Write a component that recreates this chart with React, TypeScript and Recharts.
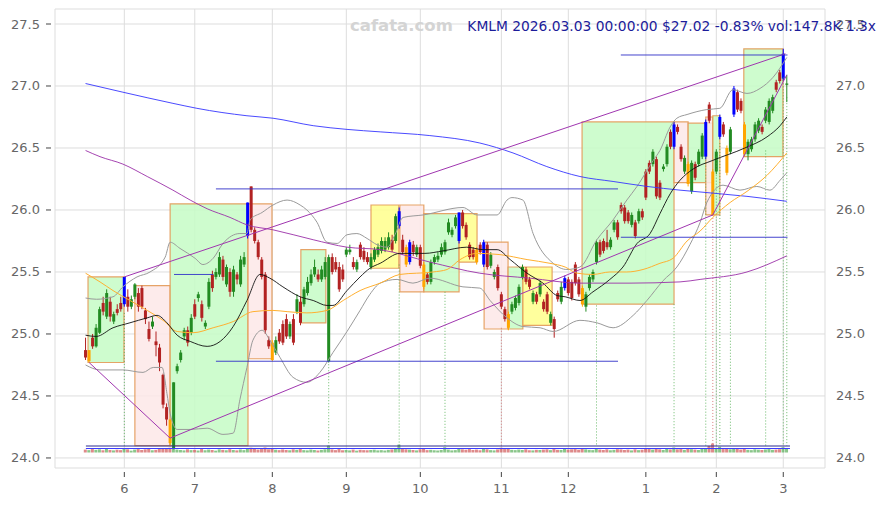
import React from 'react';
import {
  ComposedChart,
  Bar,
  Line,
  XAxis,
  YAxis,
  CartesianGrid,
  ReferenceArea,
  ReferenceLine,
} from 'recharts';

// ---------- candle data (trading-day index 0 = 2025-05-15 ... 199 = 2026-03-03) ----------
const openP = [
  24.87, 24.78, 24.97, 24.9, 25.01, 25.25, 25.14, 25.26, 25.1, 25.2,
  25.25, 25.24, 25.3, 25.22, 25.3, 25.33, 25.37, 25.19, 25.04, 25.06,
  24.94, 24.89, 24.67, 24.41, 24.31, 24.08, 24.7, 24.79, 24.98, 25.03,
  25.01, 25.24, 25.29, 25.24, 25.06, 25.22, 25.48, 25.46, 25.48, 25.6,
  25.4, 25.5, 25.34, 25.48, 25.4, 25.56, 25.79, 26.19, 25.84, 25.74,
  25.6, 25.48, 24.95, 24.93, 24.85, 25.01, 25.08, 25.12, 24.98, 25.12,
  25.18, 25.26, 25.24, 25.33, 25.41, 25.48, 25.48, 25.44, 25.46, 24.78,
  25.62, 25.58, 25.54, 25.52, 25.64, 25.66, 25.58, 25.52, 25.72, 25.67,
  25.62, 25.54, 25.6, 25.64, 25.67, 25.68, 25.7, 25.76, 25.75, 25.87,
  25.76, 25.7, 25.58, 25.72, 25.64, 25.7, 25.56, 25.48, 25.42, 25.58,
  25.6, 25.64, 25.66, 25.82, 25.8, 25.87, 25.75, 25.98, 25.88, 25.72,
  25.68, 25.68, 25.72, 25.56, 25.72, 25.55, 25.46, 25.54, 25.32, 25.2,
  25.16, 25.18, 25.21, 25.25, 25.46, 25.52, 25.44, 25.26, 25.32, 25.32,
  25.26, 25.32, 25.09, 25.12, 25.33, 25.26, 25.37, 25.44, 25.42, 25.56,
  25.44, 25.37, 25.22, 25.37, 25.44, 25.58, 25.74, 25.75, 25.74, 25.7,
  25.84, 25.9, 26.04, 26.02, 25.98, 25.88, 25.9, 25.91, 25.99, 26.31,
  26.38, 26.37, 26.41, 26.22, 26.33, 26.37, 26.63, 26.51, 26.67, 26.51,
  26.31, 26.37, 26.15, 26.37, 26.37, 26.43, 26.43, 26.85, 26.31, 26.31,
  26.59, 26.69, 26.5, 26.47, 26.77, 26.95, 26.88, 26.69, 26.45, 26.49,
  26.57, 26.64, 26.67, 26.72, 26.71, 26.8, 27.03, 27.11, 27.06, 27.01,
];
const highP = [
  24.97, 24.87, 25.0, 25.08, 25.22, 25.3, 25.36, 25.3, 25.18, 25.24,
  25.3, 25.46, 25.36, 25.31, 25.41, 25.37, 25.39, 25.21, 25.1, 25.14,
  25.02, 24.92, 24.68, 24.44, 24.31, 24.61, 24.76, 24.87, 25.05, 25.06,
  25.16, 25.28, 25.34, 25.27, 25.11, 25.45, 25.51, 25.53, 25.66, 25.63,
  25.56, 25.53, 25.55, 25.5, 25.63, 25.66, 26.06, 26.19, 25.86, 25.76,
  25.62, 25.5, 24.98, 24.95, 24.98, 25.04, 25.11, 25.16, 25.1, 25.16,
  25.32, 25.3, 25.38, 25.46, 25.52, 25.6, 25.52, 25.55, 25.62, 25.64,
  25.65, 25.62, 25.58, 25.56, 25.7, 25.72, 25.62, 25.6, 25.74, 25.7,
  25.66, 25.65, 25.7, 25.73, 25.78, 25.78, 25.82, 25.8, 25.97, 26.02,
  25.8, 25.72, 25.76, 25.75, 25.72, 25.72, 25.58, 25.5, 25.6, 25.64,
  25.66, 25.73, 25.76, 25.93, 25.86, 25.96, 25.98, 26.0, 25.9, 25.74,
  25.7, 25.7, 25.74, 25.76, 25.74, 25.66, 25.52, 25.56, 25.34, 25.22,
  25.18, 25.26, 25.31, 25.4, 25.56, 25.54, 25.46, 25.35, 25.34, 25.43,
  25.28, 25.34, 25.18, 25.14, 25.35, 25.42, 25.47, 25.46, 25.44, 25.58,
  25.46, 25.39, 25.34, 25.48, 25.52, 25.76, 25.76, 25.77, 25.84, 25.78,
  25.92, 25.92, 26.06, 26.04, 26.0, 25.98, 25.92, 26.01, 26.01, 26.33,
  26.4, 26.49, 26.43, 26.24, 26.37, 26.53, 26.65, 26.71, 26.69, 26.53,
  26.44, 26.39, 26.4, 26.39, 26.49, 26.62, 26.73, 26.87, 26.33, 26.49,
  26.77, 26.71, 26.52, 26.67, 27.0, 26.97, 26.9, 26.71, 26.57, 26.59,
  26.71, 26.74, 26.69, 26.83, 26.9, 26.93, 27.05, 27.13, 27.3, 27.09,
];
const lowP = [
  24.79, 24.77, 24.88, 24.89, 25.0, 25.15, 25.12, 25.1, 25.08, 25.15,
  25.18, 25.22, 25.18, 25.2, 25.28, 25.18, 25.2, 25.08, 24.94, 25.04,
  24.82, 24.7, 24.4, 24.26, 24.1, 24.07, 24.68, 24.77, 24.95, 24.9,
  24.99, 25.12, 25.26, 25.1, 25.04, 25.2, 25.34, 25.44, 25.46, 25.43,
  25.38, 25.3, 25.3, 25.4, 25.38, 25.54, 25.77, 25.82, 25.73, 25.6,
  25.44, 25.0, 24.88, 24.78, 24.83, 24.92, 24.91, 24.96, 24.96, 24.91,
  25.16, 25.07, 25.22, 25.31, 25.39, 25.46, 25.42, 25.42, 25.44, 24.77,
  25.48, 25.5, 25.34, 25.42, 25.62, 25.64, 25.52, 25.5, 25.6, 25.58,
  25.56, 25.52, 25.58, 25.62, 25.65, 25.66, 25.68, 25.66, 25.73, 25.85,
  25.64, 25.54, 25.56, 25.63, 25.62, 25.53, 25.36, 25.4, 25.4, 25.56,
  25.58, 25.62, 25.64, 25.8, 25.78, 25.85, 25.73, 25.85, 25.76, 25.6,
  25.6, 25.56, 25.64, 25.54, 25.52, 25.53, 25.44, 25.35, 25.2, 25.1,
  25.03, 25.16, 25.19, 25.23, 25.44, 25.4, 25.36, 25.24, 25.24, 25.3,
  25.18, 25.16, 25.07, 24.97, 25.26, 25.24, 25.35, 25.31, 25.27, 25.39,
  25.3, 25.22, 25.18, 25.35, 25.42, 25.56, 25.62, 25.65, 25.68, 25.68,
  25.82, 25.76, 25.97, 25.89, 25.89, 25.86, 25.77, 25.89, 25.92, 26.08,
  26.29, 26.35, 26.09, 26.08, 26.31, 26.35, 26.49, 26.49, 26.61, 26.39,
  26.29, 26.19, 26.13, 26.24, 26.35, 26.41, 26.41, 26.7, 25.96, 26.29,
  26.57, 26.59, 26.28, 26.45, 26.75, 26.79, 26.78, 26.43, 26.4, 26.47,
  26.55, 26.62, 26.61, 26.7, 26.69, 26.78, 26.95, 27.02, 27.04, 26.87,
];
const closeP = [
  24.81, 24.87, 24.9, 25.05, 25.2, 25.18, 25.33, 25.14, 25.16, 25.17,
  25.2, 25.46, 25.22, 25.28, 25.4, 25.22, 25.22, 25.12, 24.96, 25.1,
  24.91, 24.77, 24.43, 24.31, 24.12, 24.61, 24.74, 24.85, 25.03, 24.93,
  25.13, 25.14, 25.32, 25.13, 25.09, 25.42, 25.37, 25.5, 25.62, 25.46,
  25.54, 25.34, 25.52, 25.44, 25.6, 25.62, 26.06, 25.84, 25.75, 25.62,
  25.46, 25.03, 24.9, 24.79, 24.95, 24.94, 24.93, 24.98, 25.08, 24.93,
  25.28, 25.09, 25.36, 25.42, 25.48, 25.54, 25.44, 25.52, 25.58, 25.62,
  25.5, 25.52, 25.36, 25.44, 25.68, 25.68, 25.54, 25.58, 25.62, 25.6,
  25.58, 25.62, 25.68, 25.7, 25.75, 25.75, 25.78, 25.68, 25.95, 25.99,
  25.66, 25.56, 25.74, 25.66, 25.7, 25.55, 25.38, 25.42, 25.58, 25.62,
  25.63, 25.7, 25.74, 25.9, 25.84, 25.94, 25.98, 25.87, 25.78, 25.62,
  25.62, 25.58, 25.66, 25.74, 25.54, 25.64, 25.5, 25.37, 25.22, 25.12,
  25.05, 25.24, 25.29, 25.38, 25.54, 25.42, 25.38, 25.33, 25.26, 25.41,
  25.2, 25.18, 25.16, 25.04, 25.28, 25.38, 25.45, 25.33, 25.29, 25.41,
  25.32, 25.24, 25.32, 25.46, 25.5, 25.74, 25.64, 25.67, 25.7, 25.76,
  25.9, 25.78, 25.99, 25.91, 25.91, 25.96, 25.79, 25.99, 25.94, 26.1,
  26.31, 26.47, 26.11, 26.1, 26.35, 26.51, 26.51, 26.69, 26.63, 26.41,
  26.42, 26.21, 26.38, 26.26, 26.47, 26.6, 26.71, 26.72, 25.96, 26.47,
  26.75, 26.61, 26.3, 26.65, 26.98, 26.81, 26.8, 26.45, 26.55, 26.57,
  26.69, 26.72, 26.63, 26.81, 26.88, 26.91, 26.97, 27.04, 27.26, 27.02,
];
const blueIdx = [11, 46, 89, 92, 106, 113, 136, 167, 176, 180, 184, 198];
const orangeIdx = [1, 24, 53, 91, 96, 111, 120, 141, 171, 178, 182, 187];
const volumeK = [
  110, 90, 130, 100, 120, 85, 140, 95, 80, 105,
  90, 160, 120, 70, 110, 130, 95, 120, 150, 85,
  100, 140, 170, 150, 180, 200, 110, 95, 80, 120,
  90, 100, 75, 130, 85, 110, 95, 70, 120, 100,
  85, 125, 95, 80, 115, 90, 170, 180, 140, 110,
  130, 190, 120, 150, 105, 90, 115, 95, 85, 120,
  100, 130, 90, 80, 110, 95, 75, 100, 120, 260,
  115, 90, 130, 85, 95, 80, 110, 70, 100, 90,
  85, 95, 105, 80, 90, 75, 100, 115, 140, 300,
  130, 120, 110, 95, 80, 120, 160, 90, 100, 85,
  75, 95, 200, 110, 80, 90, 150, 120, 105, 130,
  95, 110, 85, 140, 120, 90, 80, 115, 180, 130,
  140, 100, 90, 110, 95, 120, 85, 80, 100, 95,
  110, 120, 90, 130, 100, 95, 150, 110, 120, 130,
  105, 140, 120, 100, 90, 170, 110, 95, 120, 85,
  100, 125, 115, 95, 110, 80, 120, 90, 105, 150,
  130, 110, 160, 120, 95, 140, 115, 190, 120, 130,
  100, 150, 125, 110, 95, 140, 160, 250, 340, 150,
  220, 130, 170, 120, 160, 140, 110, 150, 100, 90,
  120, 105, 95, 115, 130, 100, 110, 125, 200, 148,
];
const volMaLevels = [247, 152];

// ---------- axes ----------
const monthTicks = [11, 31, 53, 74, 95, 118, 137, 159, 179, 198];
const monthLabels = ['6', '7', '8', '9', '10', '11', '12', '1', '2', '3'];
const priceTicks = [24, 24.5, 25, 25.5, 26, 26.5, 27, 27.5];

// ---------- indicator curves [index, price] ----------
const sma20Pts = [
  [0, 24.99], [3, 24.98], [7.8, 25.05], [12.6, 25.09], [17.5, 25.13], [20.3, 25.15], [23.1, 25.09],
  [26, 24.99], [29.7, 24.94], [34.5, 24.9], [38.2, 24.94], [41.9, 25.06], [45.8, 25.27], [49.5, 25.48],
  [52.3, 25.45], [56, 25.38], [60.9, 25.3], [64.6, 25.27], [68.5, 25.23], [70.2, 25.23], [74.2, 25.35],
  [77.9, 25.46], [80.7, 25.53], [83.6, 25.57], [89.2, 25.65], [96.3, 25.65], [101.4, 25.67],
  [108.2, 25.7], [112.8, 25.68], [116.8, 25.68], [120.5, 25.6], [125.3, 25.49], [129.8, 25.41],
  [133.8, 25.31], [136.1, 25.3], [140.3, 25.27], [144, 25.34], [148.8, 25.44], [152.5, 25.54],
  [156.5, 25.73], [160.2, 25.81], [163, 25.97], [165.9, 26.13], [168.7, 26.24], [172.4, 26.33],
  [178, 26.4], [187.1, 26.5], [193.4, 26.59], [197.1, 26.68], [199, 26.75],
];
const sma50Pts = [
  [0, 25.49], [4.1, 25.42], [7.8, 25.35], [12.6, 25.27], [17.5, 25.19], [22, 25.11], [26, 25.02],
  [30.5, 25.01], [36.2, 25.05], [41.9, 25.1], [47.5, 25.18], [53.2, 25.19], [57.2, 25.18],
  [62.8, 25.17], [68.5, 25.19], [73.1, 25.27], [77.9, 25.35], [83.6, 25.41], [89.2, 25.48],
  [98.6, 25.5], [102.6, 25.52], [106.3, 25.6], [111.1, 25.65], [117.6, 25.64], [125.3, 25.6],
  [131.8, 25.57], [136.1, 25.54], [139.5, 25.49], [144, 25.48], [148.8, 25.5], [153.6, 25.5],
  [158.2, 25.52], [163, 25.57], [166.7, 25.61], [170.7, 25.75], [174.4, 25.83], [178, 25.94],
  [182.9, 26.06], [187.7, 26.15], [193.4, 26.28], [199, 26.46],
];
const sma200Pts = [
  [0, 27.02], [10.6, 26.95], [24.8, 26.86], [31.6, 26.82], [45.8, 26.76], [53.2, 26.74],
  [64.6, 26.68], [74.2, 26.65], [83.6, 26.63], [97.7, 26.6], [111.9, 26.54], [121.3, 26.46],
  [130.9, 26.35], [140.3, 26.27], [149.7, 26.23], [159.3, 26.19], [168.7, 26.16], [187.7, 26.11],
  [199, 26.07],
];
const sma100Pts = [
  [0, 26.48], [4.1, 26.43], [10.6, 26.37], [17.5, 26.27], [24.8, 26.16], [29.7, 26.08],
  [34.5, 26.01], [41, 25.94], [45.8, 25.88], [53.2, 25.84], [64.6, 25.76], [74.2, 25.7],
  [83.6, 25.68], [97.7, 25.58], [111.9, 25.49], [126.1, 25.45], [140.3, 25.41], [154.5, 25.41],
  [168.7, 25.42], [174.4, 25.44], [187.7, 25.5], [199, 25.63],
];
const bbUpperPts = [
  [0, 25.29], [3.1, 25.28], [7.8, 25.3], [10.6, 25.38], [14.6, 25.46], [18.3, 25.5], [22.6, 25.62],
  [24, 25.74], [26.8, 25.69], [31.1, 25.61], [33.3, 25.56], [36.2, 25.61], [39, 25.73], [43.8, 25.81],
  [45.8, 25.81], [46.7, 25.92], [50.1, 25.98], [53.2, 26.04], [57.2, 26.08], [60.9, 26.04],
  [62.8, 26.0], [65.7, 25.9], [68.5, 25.74], [71.4, 25.73], [74.2, 25.8], [77, 25.81], [79.9, 25.77],
  [82.7, 25.72], [85.6, 25.7], [87.8, 25.8], [90.1, 25.94], [95.8, 25.96], [107.1, 26.02],
  [111.1, 25.96], [116.8, 25.96], [119.6, 26.08], [121, 26.1], [124.1, 26.08], [127, 25.81],
  [132.7, 25.57], [136.6, 25.52], [140.3, 25.54], [145.1, 25.76], [149.7, 25.92], [153.6, 26.08],
  [156.5, 26.19], [161.1, 26.4], [163, 26.48], [165.9, 26.67], [167.8, 26.74], [170.7, 26.77],
  [176.3, 26.81], [180, 26.82], [183.7, 26.97], [187.7, 26.94], [191.4, 26.98], [195.1, 27.07],
  [199, 27.23],
];
const bbLowerPts = [
  [0, 24.75], [4.1, 24.71], [10.6, 24.71], [16.3, 24.69], [19.2, 24.73], [21.7, 24.73], [23.1, 24.52],
  [24, 24.36], [26, 24.23], [29.7, 24.23], [34.5, 24.24], [39, 24.19], [41.9, 24.2], [43.8, 24.47],
  [45.8, 24.73], [47.5, 24.95], [50.1, 25.03], [52.3, 24.95], [55.2, 24.81], [58.9, 24.65],
  [62.8, 24.61], [66.5, 24.69], [70.2, 24.85], [74.2, 25.02], [77.9, 25.19], [80.7, 25.32],
  [83.6, 25.41], [88.4, 25.44], [92.9, 25.41], [97.7, 25.45], [107.1, 25.38], [111.9, 25.37],
  [114.8, 25.27], [119.6, 25.13], [124.1, 25.06], [129, 25.05], [132.7, 25.02], [140.3, 25.11],
  [145.1, 25.09], [149.7, 25.05], [155.4, 25.15], [159.3, 25.27], [163.9, 25.43], [167.8, 25.54],
  [171.5, 25.72], [174.4, 25.9], [176.3, 26.06], [180.9, 26.2], [185.7, 26.16], [190.5, 26.19],
  [194.2, 26.16], [197.1, 26.24], [199, 26.3],
];

// ---------- annotations ----------
const boxes = [
  { x1: 0.7, x2: 10.9, y1: 24.77, y2: 25.46, kind: 'g' },
  { x1: 14.0, x2: 24.0, y1: 24.1, y2: 25.39, kind: 'p' },
  { x1: 24.0, x2: 46.1, y1: 24.1, y2: 26.05, kind: 'g' },
  { x1: 46.1, x2: 52.9, y1: 24.8, y2: 26.05, kind: 'p' },
  { x1: 61.1, x2: 68.2, y1: 25.09, y2: 25.68, kind: 'g' },
  { x1: 81.0, x2: 88.9, y1: 25.53, y2: 26.04, kind: 'y' },
  { x1: 89.2, x2: 96.0, y1: 25.34, y2: 26.04, kind: 'p' },
  { x1: 96.0, x2: 106.0, y1: 25.34, y2: 25.97, kind: 'g' },
  { x1: 106.0, x2: 111.1, y1: 25.58, y2: 25.97, kind: 'y' },
  { x1: 113.1, x2: 119.9, y1: 25.04, y2: 25.74, kind: 'p' },
  { x1: 119.9, x2: 124.1, y1: 25.04, y2: 25.54, kind: 'g' },
  { x1: 124.1, x2: 132.4, y1: 25.07, y2: 25.54, kind: 'y' },
  { x1: 140.9, x2: 167.0, y1: 25.24, y2: 26.71, kind: 'g' },
  { x1: 167.0, x2: 171.0, y1: 26.22, y2: 26.71, kind: 'p' },
  { x1: 171.0, x2: 178.0, y1: 26.22, y2: 26.7, kind: 'g' },
  { x1: 176.0, x2: 178.0, y1: 25.96, y2: 26.75, kind: 'p' },
  { x1: 178.0, x2: 180.0, y1: 25.96, y2: 26.76, kind: 'g' },
  { x1: 186.8, x2: 197.9, y1: 26.43, y2: 27.3, kind: 'g' },
];
const levelLines = [
  { x1: 37.0, x2: 151.1, y: 26.17 },
  { x1: 37.0, x2: 151.1, y: 24.78 },
  { x1: 151.9, x2: 199.2, y: 27.25 },
  { x1: 151.9, x2: 199.2, y: 25.78 },
  { x1: 25.1, x2: 36.2, y: 25.48 },
];
const trendLines = [
  { a: [1.0, 24.77], b: [24.0, 24.16] },
  { a: [11.0, 25.46], b: [198.6, 27.26] },
  { a: [24.0, 24.16], b: [178.0, 25.96] },
  { a: [178.0, 25.96], b: [199.0, 27.09] },
];
const signalDrops = [
  { i: 11, p: 25.17, red: false },
  { i: 69, p: 24.78, red: false },
  { i: 89, p: 25.56, red: false },
  { i: 102, p: 25.34, red: false },
  { i: 118, p: 25.05, red: true },
  { i: 145, p: 25.23, red: false },
  { i: 167, p: 25.24, red: false },
  { i: 176, p: 26.43, red: false },
  { i: 178, p: 25.96, red: true },
  { i: 179, p: 26.43, red: false },
  { i: 180, p: 26.54, red: false },
  { i: 183, p: 26.01, red: false },
  { i: 193, p: 26.48, red: false },
  { i: 198, p: 27.07, red: false },
  { i: 199, p: 26.91, red: false },
];
const dropFloor = 24.1;

const X_DOMAIN: [number, number] = [-8.67, 209.84];
const Y_DOMAIN: [number, number] = [23.919, 27.621];
const V_DOMAIN: [number, number] = [-589, 16853];

const data = openP.map((o, i) => ({
  i,
  o,
  h: highP[i],
  l: lowP[i],
  c: closeP[i],
  k: blueIdx.includes(i) ? 'b' : orangeIdx.includes(i) ? 'o' : 'n',
  vol: volumeK[i],
}));

const toPts = (arr: number[][]) => arr.map(([i, v]) => ({ i, v }));

const boxFill: Record<string, string> = { g: '#c6fcc6', p: '#fde8e8', y: '#ffff8c' };

const CandleShape = (props: any) => {
  const { x, y, width, height, payload } = props;
  if (!payload || !isFinite(y) || !isFinite(height)) return null;
  const top = Math.min(y, y + height);
  const span = Math.abs(height);
  const { o, h, l, c, k } = payload;
  const ppu = span / (h - l);
  const py = (v: number) => top + (h - v) * ppu;
  const cx = x + width / 2;
  const col = k === 'b' ? '#0000ff' : k === 'o' ? '#ffa500' : c >= o ? '#228b22' : '#b22222';
  const bt = py(Math.max(o, c));
  const bb = py(Math.min(o, c));
  return (
    <g>
      <line x1={cx} x2={cx} y1={top} y2={top + span} stroke={col} strokeWidth={1} />
      <rect x={cx - 1.5} y={bt} width={3} height={Math.max(bb - bt, 0.8)} fill={col} />
    </g>
  );
};

const VolShape = (props: any) => {
  const { x, y, width, height, payload } = props;
  if (!payload || !isFinite(y) || !isFinite(height)) return null;
  const top = Math.min(y, y + height);
  const col = payload.c >= payload.o ? 'rgba(60,160,60,0.6)' : 'rgba(200,60,60,0.6)';
  return <rect x={x + width / 2 - 1.5} y={top} width={3} height={Math.abs(height)} fill={col} />;
};

const LeftTick = (p: any) => {
  const { x, y, payload } = p;
  return (
    <g>
      <line x1={x - 9} x2={x - 4} y1={y} y2={y} stroke="#444" />
      <text x={x - 15} y={y + 4.5} textAnchor="end" fill="#666" fontSize={13} fontFamily="DejaVu Sans">
        {Number(payload.value).toFixed(1)}
      </text>
    </g>
  );
};
const RightTick = (p: any) => {
  const { x, y, payload } = p;
  return (
    <text x={x + 11} y={y + 4.5} textAnchor="start" fill="#666" fontSize={13} fontFamily="DejaVu Sans">
      {Number(payload.value).toFixed(1)}
    </text>
  );
};
const BottomTick = (p: any) => {
  const { x, y, payload } = p;
  const idx = monthTicks.indexOf(payload.value);
  return (
    <g>
      <line x1={x} x2={x} y1={y + 4} y2={y + 9} stroke="#444" />
      <text x={x} y={y + 25} textAnchor="middle" fill="#666" fontSize={13} fontFamily="DejaVu Sans">
        {idx >= 0 ? monthLabels[idx] : ''}
      </text>
    </g>
  );
};

export default function App() {
  return (
    <div
      style={{
        position: 'absolute',
        left: 0,
        top: 0,
        width: 886,
        height: 505,
        background: '#fff',
        fontFamily: 'DejaVu Sans',
      }}
    >
      <ComposedChart width={886} height={505} data={data} margin={{ top: 9, right: 0, left: 0, bottom: 0 }}>
        <CartesianGrid stroke="#dddddd" strokeWidth={1} />
        <XAxis
          dataKey="i"
          type="number"
          domain={X_DOMAIN}
          allowDataOverflow
          ticks={monthTicks}
          interval={0}
          axisLine={false}
          tickLine={false}
          tickSize={0}
          tickMargin={0}
          height={37}
          tick={<BottomTick />}
        />
        <XAxis xAxisId="xv" dataKey="i" type="number" domain={X_DOMAIN} allowDataOverflow hide />
        <YAxis
          type="number"
          domain={Y_DOMAIN}
          allowDataOverflow
          ticks={priceTicks}
          interval={0}
          axisLine={false}
          tickLine={false}
          tickSize={0}
          tickMargin={0}
          width={55}
          tick={<LeftTick />}
        />
        <YAxis
          yAxisId="yr"
          orientation="right"
          type="number"
          domain={Y_DOMAIN}
          allowDataOverflow
          ticks={priceTicks}
          interval={0}
          axisLine={false}
          tickLine={false}
          tickSize={0}
          tickMargin={0}
          width={61}
          tick={<RightTick />}
        />
        <YAxis yAxisId="yv" type="number" domain={V_DOMAIN} allowDataOverflow hide />

        {boxes.map((b, n) => (
          <ReferenceArea
            key={'box' + n}
            x1={b.x1}
            x2={b.x2}
            y1={b.y1}
            y2={b.y2}
            fill={boxFill[b.kind]}
            fillOpacity={0.85}
            stroke="#e39a58"
            strokeWidth={1.2}
            strokeOpacity={0.9}
          />
        ))}

        {signalDrops.map((d, n) => (
          <ReferenceLine
            key={'drop' + n}
            segment={[
              { x: d.i, y: d.p },
              { x: d.i, y: dropFloor },
            ]}
            stroke={d.red ? '#d06060' : '#45a845'}
            strokeWidth={0.8}
            strokeDasharray="1 2"
          />
        ))}

        {volMaLevels.map((v, n) => (
          <ReferenceLine
            key={'vma' + n}
            xAxisId="xv"
            yAxisId="yv"
            segment={[
              { x: 0.1, y: v },
              { x: 199.9, y: v },
            ]}
            stroke={n === 0 ? '#2a2a90' : '#3a3aff'}
            strokeWidth={1}
          />
        ))}
        <Bar
          xAxisId="xv"
          yAxisId="yv"
          dataKey="vol"
          barSize={3}
          shape={<VolShape />}
          isAnimationActive={false}
        />

        <Line data={toPts(bbUpperPts)} dataKey="v" type="monotone" stroke="#9a9a9a" strokeWidth={1} dot={false} isAnimationActive={false} />
        <Line data={toPts(bbLowerPts)} dataKey="v" type="monotone" stroke="#9a9a9a" strokeWidth={1} dot={false} isAnimationActive={false} />
        <Line data={toPts(sma200Pts)} dataKey="v" type="monotone" stroke="#3535ff" strokeWidth={0.9} dot={false} isAnimationActive={false} />
        <Line data={toPts(sma100Pts)} dataKey="v" type="monotone" stroke="#9b30a8" strokeWidth={0.9} dot={false} isAnimationActive={false} />
        <Line data={toPts(sma50Pts)} dataKey="v" type="monotone" stroke="#ffb030" strokeWidth={1} dot={false} isAnimationActive={false} />
        <Line data={toPts(sma20Pts)} dataKey="v" type="monotone" stroke="#111111" strokeWidth={0.9} dot={false} isAnimationActive={false} />

        {trendLines.map((t, n) => (
          <ReferenceLine
            key={'trend' + n}
            segment={[
              { x: t.a[0], y: t.a[1] },
              { x: t.b[0], y: t.b[1] },
            ]}
            stroke="#a036b0"
            strokeWidth={1}
          />
        ))}
        {levelLines.map((h, n) => (
          <ReferenceLine
            key={'lvl' + n}
            segment={[
              { x: h.x1, y: h.y },
              { x: h.x2, y: h.y },
            ]}
            stroke="#3030c8"
            strokeWidth={0.9}
          />
        ))}

        <Bar dataKey={(d: any) => [d.l, d.h]} barSize={3} shape={<CandleShape />} isAnimationActive={false} />
      </ComposedChart>
      <svg
        width={886}
        height={505}
        style={{ position: 'absolute', left: 0, top: 0, pointerEvents: 'none' }}
      >
        <text x={350} y={31} fontSize={16.5} fontWeight="bold" fill="#d4d4d4" fontFamily="DejaVu Sans">
          cafata.com
        </text>
        <text x={876} y={30.7} fontSize={13.8} textAnchor="end" fill="#1c1c9a" fontFamily="DejaVu Sans">
          KMLM 2026.03.03 00:00:00 $27.02 -0.83% vol:147.8K 1.3x
        </text>
      </svg>
    </div>
  );
}
